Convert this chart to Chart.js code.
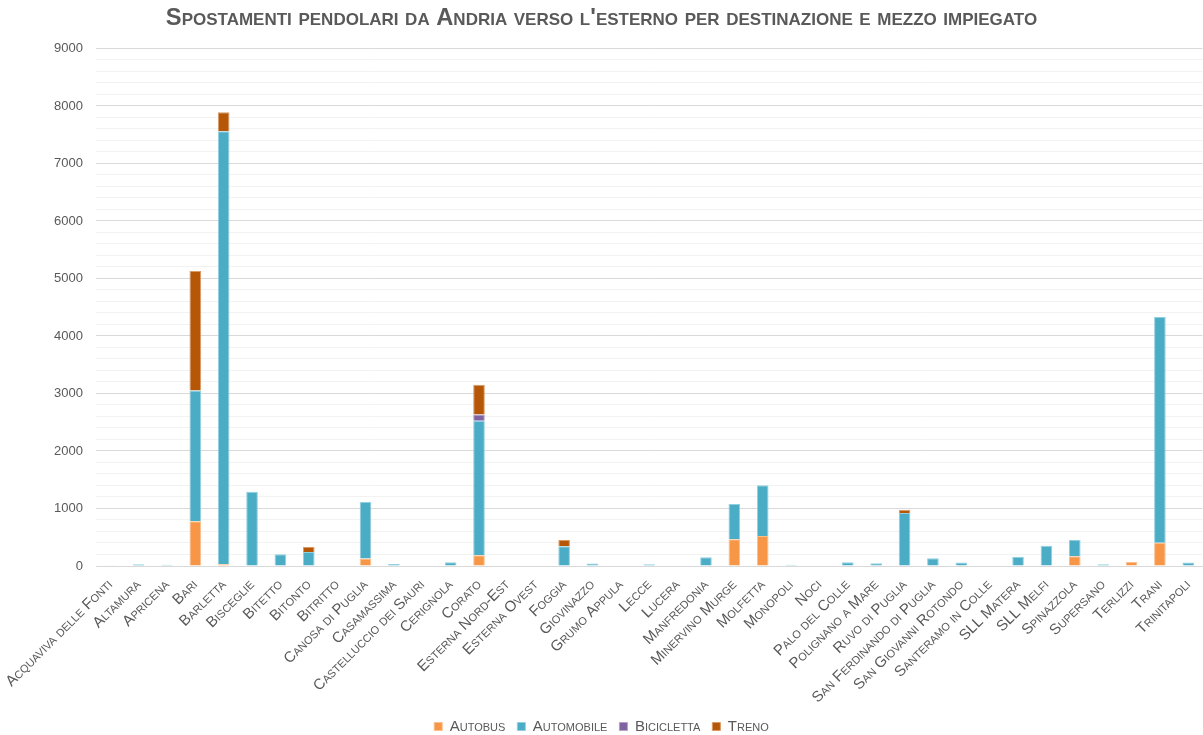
<!DOCTYPE html>
<html>
<head>
<meta charset="utf-8">
<script src="https://cdn.jsdelivr.net/npm/chart.js@4.4.0/dist/chart.umd.min.js"></script>
<style>
  body { margin: 0; background: #fff; }
  #wrap { width: 1203px; height: 735px; }
</style>
</head>
<body>
<div id="wrap"><canvas id="chart"></canvas></div>
<script>
const categories = [
  "Acquaviva delle Fonti", "Altamura", "Apricena", "Bari", "Barletta", "Bisceglie",
  "Bitetto", "Bitonto", "Bitritto", "Canosa di Puglia", "Casamassima",
  "Castelluccio dei Sauri", "Cerignola", "Corato", "Esterna Nord-Est", "Esterna Ovest",
  "Foggia", "Giovinazzo", "Grumo Appula", "Lecce", "Lucera", "Manfredonia",
  "Minervino Murge", "Molfetta", "Monopoli", "Noci", "Palo del Colle",
  "Polignano a Mare", "Ruvo di Puglia", "San Ferdinando di Puglia",
  "San Giovanni Rotondo", "Santeramo in Colle", "SLL Matera", "SLL Melfi",
  "Spinazzola", "Supersano", "Terlizzi", "Trani", "Trinitapoli"
];

const autobus = [0, 0, 0, 780, 30, 0, 0, 0, 0, 130, 0, 0, 0, 185, 0, 0, 0, 0, 0, 0, 0, 0, 465, 520, 0, 0, 0, 0, 0, 0, 0, 0, 0, 0, 170, 0, 70, 405, 0];
const automobile = [5, 30, 20, 2270, 7530, 1290, 205, 245, 10, 985, 35, 0, 65, 2340, 0, 0, 345, 45, 0, 30, 0, 150, 615, 885, 20, 0, 65, 47, 920, 135, 60, 10, 160, 350, 280, 30, 0, 3925, 60];
const bicicletta = [0, 0, 0, 0, 0, 0, 0, 0, 0, 0, 0, 0, 0, 110, 0, 0, 0, 0, 0, 0, 0, 0, 0, 0, 0, 0, 0, 0, 0, 0, 0, 0, 0, 0, 0, 0, 0, 0, 0];
const treno = [0, 0, 0, 2080, 330, 0, 0, 85, 0, 0, 0, 0, 0, 515, 0, 0, 105, 0, 0, 0, 0, 0, 0, 0, 0, 0, 0, 0, 55, 0, 0, 0, 0, 0, 0, 0, 0, 0, 0];

const yMax = 9000;
const yStep = 200;
const yLabelStep = 1000;

const grigio = "#595959";
const family = "'Liberation Sans', Arial, sans-serif";

function serie(label, data, colore, bordo) {
  return {
    label: label,
    data: data,
    backgroundColor: colore,
    borderColor: bordo,
    borderWidth: 1,
    categoryPercentage: 1,
    barPercentage: 0.41
  };
}

new Chart(document.getElementById("chart"), {
  type: "bar",
  data: {
    labels: categories,
    datasets: [
      serie("Autobus", autobus, "#F79646", "#fbbf8c"),
      serie("Automobile", automobile, "#4BACC6", "#93cfdf"),
      serie("Bicicletta", bicicletta, "#8064A2", "#b3a2c7"),
      serie("Treno", treno, "#B65708", "#d99a66")
    ]
  },
  options: {
    responsive: true,
    maintainAspectRatio: false,
    animation: false,
    layout: { padding: { bottom: -9 } },
    plugins: {
      title: {
        display: true,
        text: "Spostamenti pendolari da Andria verso l'esterno per destinazione e mezzo impiegato",
        color: grigio,
        font: { family: family, size: 23.7, weight: "small-caps bold" },
        padding: { top: 4, bottom: 16 }
      },
      legend: {
        position: "bottom",
        labels: {
          color: grigio,
          boxWidth: 8,
          boxHeight: 8,
          padding: 12,
          font: { family: family, size: 15, weight: "small-caps" }
        }
      },
      tooltip: { enabled: false }
    },
    scales: {
      x: {
        stacked: true,
        grid: { display: false },
        border: { color: "#d9d9d9" },
        ticks: {
          color: grigio,
          autoSkip: false,
          maxRotation: 45,
          minRotation: 45,
          padding: 2,
          font: { family: family, size: 15, weight: "small-caps" }
        },
        afterFit: axis => { axis.height = 141; }
      },
      y: {
        stacked: true,
        min: 0,
        max: yMax,
        border: { display: false },
        grid: {
          drawTicks: false,
          color: ctx => (ctx.tick && ctx.tick.value % yLabelStep === 0) ? "#d9d9d9" : "#f2f2f2"
        },
        ticks: {
          stepSize: yStep,
          autoSkip: false,
          padding: 13,
          color: grigio,
          font: { family: family, size: 13 },
          callback: v => (v % yLabelStep === 0 ? v : "")
        },
        afterFit: axis => { axis.width = 96; }
      }
    }
  }
});
</script>
</body>
</html>
